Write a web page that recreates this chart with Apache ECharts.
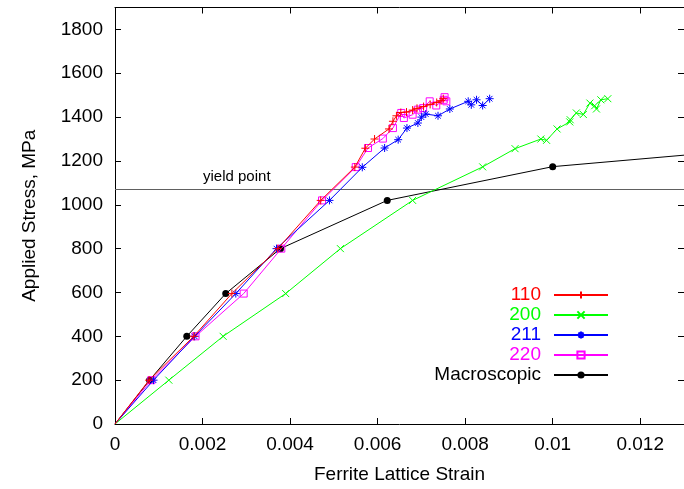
<!DOCTYPE html>
<html>
<head>
<meta charset="utf-8">
<script src="https://cdn.jsdelivr.net/npm/echarts@6/dist/echarts.min.js"></script>
<style>
html,body{margin:0;padding:0;background:#fff;}
#c{width:684px;height:489px;}
</style>
</head>
<body>
<div id="c"></div>
<script>
// ---- data (strain, stress MPa) ----
const s110 = [[0,0],[0.00078,200],[0.0018,400],[0.00267,595],[0.00372,800],[0.0047,1020],[0.00548,1172],[0.00572,1258],[0.00593,1300],[0.00626,1346],[0.00635,1381],[0.00643,1406],[0.00653,1421],[0.00666,1423],[0.0068,1432],[0.0069,1440],[0.00705,1448],[0.0072,1458],[0.00735,1467],[0.00745,1475],[0.0075,1484]];
const s200 = [[0,0],[0.00123,200],[0.00247,400],[0.0039,595],[0.00515,800],[0.0068,1020],[0.0084,1173],[0.00914,1256],[0.00973,1300],[0.00986,1294],[0.0101,1346],[0.01039,1378],[0.0104,1388],[0.01054,1419],[0.0107,1412],[0.01085,1464],[0.01096,1452],[0.011,1437],[0.0111,1479],[0.01126,1484]];
const s211 = [[0,0],[0.00088,200],[0.00182,400],[0.00276,595],[0.00369,800],[0.0049,1020],[0.00565,1171],[0.00616,1259],[0.00647,1297],[0.00667,1350],[0.00692,1373],[0.007,1400],[0.0071,1414],[0.00738,1406],[0.00765,1437],[0.00807,1472],[0.00814,1456],[0.00826,1479],[0.0084,1453],[0.00856,1484]];
const s220 = [[0,0],[0.00083,200],[0.00184,400],[0.00294,595],[0.0038,800],[0.00473,1020],[0.0055,1172],[0.00578,1259],[0.00612,1302],[0.00635,1350],[0.00654,1419],[0.0066,1396],[0.0068,1411],[0.00692,1434],[0.00704,1441],[0.00719,1472],[0.00734,1453],[0.00751,1479],[0.00753,1491],[0.00757,1472]];
const macro = [[0,0],[0.00079,200],[0.00164,400],[0.00253,595],[0.00378,800],[0.00622,1020],[0.01,1174],[0.0155,1270]];
const yieldStress = [1070];
const seriesNames = ['110','200','211','220','Macroscopic'];
const xTicks = {min:0, max:0.013, interval:0.002};
const yTicks = {min:0, max:1900, interval:200};

const FONT = "'Liberation Sans', Arial, sans-serif";
const colors = ['#ff0000','#00ff00','#0000ff','#ff00ff','#000000'];
const symbols = [
  'path://M0,5L10,5M5,0L5,10',
  'path://M0,0L10,10M10,0L0,10',
  'path://M0,5L10,5M5,0L5,10M1.5,1.5L8.5,8.5M8.5,1.5L1.5,8.5',
  'path://M0,0L10,0L10,10L0,10Z',
  'circle'
];
const sizes = [8, 7, 8, 7, 7];
const datas = [s110, s200, s211, s220, macro];

// points lying on the plot border are not marked (as in the original)
const toItems = d => d.map(p => (p[0] === 0 ? {value: p, symbol: 'none'} : p));

const series = datas.map((d, i) => ({
  name: seriesNames[i],
  type: 'line',
  data: toItems(d),
  xAxisIndex: 0, yAxisIndex: 0,
  symbol: symbols[i],
  symbolSize: sizes[i],
  showSymbol: true,
  clip: true,
  z: 10 - i,
  lineStyle: {color: colors[i], width: 1},
  itemStyle: {
    color: i === 4 ? colors[i] : 'rgba(0,0,0,0)',
    borderColor: colors[i],
    borderWidth: i === 4 ? 0 : 1
  },
  emphasis: {disabled: true}
}));

series[4].markLine = {
  silent: true,
  symbol: ['none','none'],
  lineStyle: {color: '#606060', width: 1.2, type: 'solid'},
  label: {
    show: true,
    formatter: 'yield point',
    position: 'insideStartTop',
    padding: [0,0,0,83],
    color: '#000',
    fontFamily: FONT,
    fontSize: 15
  },
  data: [{yAxis: yieldStress[0]}]
};

const axisCommon = {
  type: 'value',
  splitLine: {show: false},
  axisLine: {show: true, onZero: false, lineStyle: {color: '#000', width: 1}},
  axisTick: {show: true, inside: true, length: 6, lineStyle: {color: '#000', width: 1}}
};
const plain = v => String(+v.toPrecision(6));

const option = {
  animation: false,
  backgroundColor: '#fff',
  grid: {left: 115, right: -1, top: 7.5, bottom: 64, containLabel: false},
  xAxis: [
    Object.assign({}, axisCommon, xTicks, {
      position: 'bottom',
      name: 'Ferrite Lattice Strain',
      nameLocation: 'middle',
      nameGap: 41,
      nameTextStyle: {fontFamily: FONT, fontSize: 19, color: '#000'},
      axisLabel: {show: true, margin: 11, fontFamily: FONT, fontSize: 19, color: '#000', showMaxLabel: false, formatter: plain}
    }),
    Object.assign({}, axisCommon, xTicks, {position: 'top', axisLabel: {show: false}})
  ],
  yAxis: [
    Object.assign({}, axisCommon, yTicks, {
      position: 'left',
      name: 'Applied Stress, MPa',
      nameLocation: 'middle',
      nameGap: 76,
      nameTextStyle: {fontFamily: FONT, fontSize: 19, color: '#000'},
      axisLabel: {show: true, margin: 12, fontFamily: FONT, fontSize: 19, color: '#000', showMaxLabel: false, formatter: plain}
    }),
    Object.assign({}, axisCommon, yTicks, {position: 'right', axisLabel: {show: false}})
  ],
  legend: {
    orient: 'vertical',
    align: 'right',
    right: 70,
    top: 280,
    itemWidth: 54,
    itemHeight: 9,
    itemGap: 0,
    selectedMode: false,
    textStyle: {fontFamily: FONT, fontSize: 19, lineHeight: 20, padding: [0, 8, 0, 0]},
    data: seriesNames.map((n, i) => ({name: n, textStyle: {color: colors[i]}}))
  },
  series: series
};

const chart = echarts.init(document.getElementById('c'), null, {renderer: 'canvas'});
chart.setOption(option);
</script>
</body>
</html>
